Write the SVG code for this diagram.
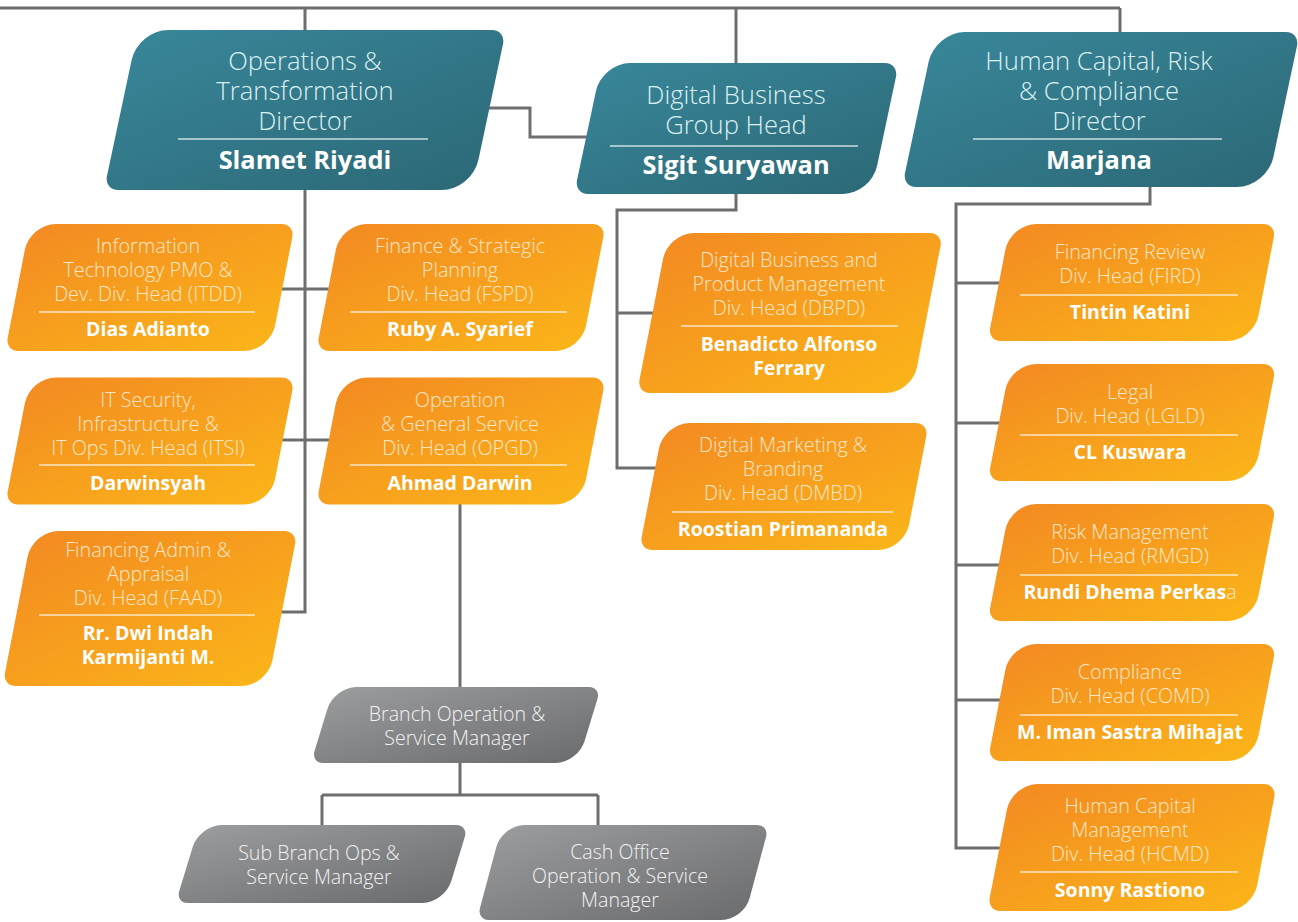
<svg xmlns="http://www.w3.org/2000/svg" xmlns:xlink="http://www.w3.org/1999/xlink" width="1298" height="922" viewBox="0 0 1298 922">
<defs>
<linearGradient id="gTeal" x1="0" y1="0" x2="1" y2="1"><stop offset="0" stop-color="#388699"/><stop offset="1" stop-color="#2c6977"/></linearGradient>
<linearGradient id="gOr" x1="0" y1="0" x2="1" y2="1"><stop offset="0" stop-color="#f38a22"/><stop offset="1" stop-color="#fbb519"/></linearGradient>
<linearGradient id="gGr" x1="0" y1="0" x2="1" y2="1"><stop offset="0" stop-color="#9b9c9e"/><stop offset="1" stop-color="#6b6c6e"/></linearGradient>
<path id="o127" d="M-106.5,-63.5 H119.5 A13,13 0 0 1 132.5,-50.5 V37.5 A26,26 0 0 1 106.5,63.5 H-119.5 A13,13 0 0 1 -132.5,50.5 V-37.5 A26,26 0 0 1 -106.5,-63.5 Z"/>
<path id="o117" d="M-107,-58.5 H120 A13,13 0 0 1 133,-45.5 V32.5 A26,26 0 0 1 107,58.5 H-120 A13,13 0 0 1 -133,45.5 V-32.5 A26,26 0 0 1 -107,-58.5 Z"/>
<path id="o155" d="M-106.5,-77.5 H119.5 A13,13 0 0 1 132.5,-64.5 V51.5 A26,26 0 0 1 106.5,77.5 H-119.5 A13,13 0 0 1 -132.5,64.5 V-51.5 A26,26 0 0 1 -106.5,-77.5 Z"/>
<path id="o160" d="M-111.5,-80 H124.5 A13,13 0 0 1 137.5,-67 V54 A26,26 0 0 1 111.5,80 H-124.5 A13,13 0 0 1 -137.5,67 V-54 A26,26 0 0 1 -111.5,-80 Z"/>
<path id="g76" d="M-111.5,-38 H121.5 A12,12 0 0 1 133.5,-26 V16 A22,22 0 0 1 111.5,38 H-121.5 A12,12 0 0 1 -133.5,26 V-16 A22,22 0 0 1 -111.5,-38 Z"/>
<path id="g78" d="M-112.5,-39 H122.5 A12,12 0 0 1 134.5,-27 V17 A22,22 0 0 1 112.5,39 H-122.5 A12,12 0 0 1 -134.5,27 V-17 A22,22 0 0 1 -112.5,-39 Z"/>
<path id="g95" d="M-111.5,-47.5 H121.5 A12,12 0 0 1 133.5,-35.5 V25.5 A22,22 0 0 1 111.5,47.5 H-121.5 A12,12 0 0 1 -133.5,35.5 V-25.5 A22,22 0 0 1 -111.5,-47.5 Z"/>
</defs>
<style>
.con{fill:none;stroke:#6d6e70;stroke-width:3}
.teal{fill:url(#gTeal)}
.or{fill:url(#gOr)}
.gr{fill:url(#gGr)}
text{font-family:"Open Sans","Noto Sans","Liberation Sans",sans-serif;text-anchor:middle}
.tt{font-size:25.6px;font-weight:300;fill:#dcf0f2}
.tn{font-size:25.4px;font-weight:700;fill:#ffffff}
.ot{font-size:19.8px;font-weight:300;fill:#fde7c9}
.on{font-size:19.5px;font-weight:700;fill:#ffffff}
.gt{font-size:19.6px;font-weight:300;fill:#f2f2f2}
.sep{stroke:#ffffff;stroke-opacity:0.75;stroke-width:1.5}
</style>
<rect width="1298" height="922" fill="#ffffff"/>
<g id="connectors">
<path class="con" d="M0,8 H1120 M305,8 V40 M736,8 V70 M1120,8 V40"/>
<path class="con" d="M480,108 H530 V137 H595"/>
<path class="con" d="M305,180 V612 H275 M275,289 H335 M275,440 H335"/>
<path class="con" d="M460,500 V695"/>
<path class="con" d="M460,760 V795 M322,795 H598 M322,795 V832 M598,795 V832"/>
<path class="con" d="M736,190 V210 H617 V468 H665 M617,313 H665"/>
<path class="con" d="M1150,180 V204 H956 V848 H1000 M956,283 H1005 M956,423 H1005 M956,565 H1005 M956,700 H1005"/>
</g>
<g id="n-slamet">
<path class="teal" transform="translate(305,110) skewX(-12)" d="M-154,-80 H170 A14,14 0 0 1 184,-66 V50 A30,30 0 0 1 154,80 H-170 A14,14 0 0 1 -184,66 V-50 A30,30 0 0 1 -154,-80 Z"/>
<text class="tt" x="305" y="70">Operations &amp;</text>
<text class="tt" x="305" y="100">Transformation</text>
<text class="tt" x="305" y="130">Director</text>
<line class="sep" x1="178" y1="139" x2="428" y2="139"/>
<text class="tn" x="305" y="169">Slamet Riyadi</text>
</g>
<g id="n-sigit">
<path class="teal" transform="translate(736.5,128.5) skewX(-12)" d="M-120.5,-65.5 H134.5 A14,14 0 0 1 148.5,-51.5 V37.5 A28,28 0 0 1 120.5,65.5 H-134.5 A14,14 0 0 1 -148.5,51.5 V-37.5 A28,28 0 0 1 -120.5,-65.5 Z"/>
<text class="tt" x="736" y="104">Digital Business</text>
<text class="tt" x="736" y="134">Group Head</text>
<line class="sep" x1="610" y1="146" x2="858" y2="146"/>
<text class="tn" x="736" y="174">Sigit Suryawan</text>
</g>
<g id="n-marjana">
<path class="teal" transform="translate(1101,109.5) skewX(-12)" d="M-152.5,-77.5 H168.5 A14,14 0 0 1 182.5,-63.5 V47.5 A30,30 0 0 1 152.5,77.5 H-168.5 A14,14 0 0 1 -182.5,63.5 V-47.5 A30,30 0 0 1 -152.5,-77.5 Z"/>
<text class="tt" x="1099" y="70">Human Capital, Risk</text>
<text class="tt" x="1099" y="100">&amp; Compliance</text>
<text class="tt" x="1099" y="130">Director</text>
<line class="sep" x1="973" y1="139" x2="1222" y2="139"/>
<text class="tn" x="1099" y="169">Marjana</text>
</g>
<g id="n-itdd">
<use href="#o127" class="or" transform="translate(150,287.5) skewX(-11)"/>
<text class="ot" x="148" y="253">Information</text>
<text class="ot" x="148" y="277">Technology PMO &amp;</text>
<text class="ot" x="148" y="301">Dev. Div. Head (ITDD)</text>
<line class="sep" x1="39" y1="312" x2="255" y2="312"/>
<text class="on" x="148" y="336">Dias Adianto</text>
</g>
<g id="n-itsi">
<use href="#o127" class="or" transform="translate(150,441) skewX(-11)"/>
<text class="ot" x="148" y="407">IT Security,</text>
<text class="ot" x="148" y="431">Infrastructure &amp;</text>
<text class="ot" x="148" y="455">IT Ops Div. Head (ITSI)</text>
<line class="sep" x1="39" y1="465" x2="255" y2="465"/>
<text class="on" x="148" y="490">Darwinsyah</text>
</g>
<g id="n-faad">
<use href="#o155" class="or" transform="translate(150,608.5) skewX(-11)"/>
<text class="ot" x="148" y="557">Financing Admin &amp;</text>
<text class="ot" x="148" y="581">Appraisal</text>
<text class="ot" x="148" y="605">Div. Head (FAAD)</text>
<line class="sep" x1="39" y1="615" x2="255" y2="615"/>
<text class="on" x="148" y="640">Rr. Dwi Indah</text>
<text class="on" x="148" y="664">Karmijanti M.</text>
</g>
<g id="n-fspd">
<use href="#o127" class="or" transform="translate(461,287.5) skewX(-11)"/>
<text class="ot" x="460" y="253">Finance &amp; Strategic</text>
<text class="ot" x="460" y="277">Planning</text>
<text class="ot" x="460" y="301">Div. Head (FSPD)</text>
<line class="sep" x1="350" y1="312" x2="567" y2="312"/>
<text class="on" x="460" y="336">Ruby A. Syarief</text>
</g>
<g id="n-opgd">
<use href="#o127" class="or" transform="translate(461,441) skewX(-11)"/>
<text class="ot" x="460" y="407">Operation</text>
<text class="ot" x="460" y="431">&amp; General Service</text>
<text class="ot" x="460" y="455">Div. Head (OPGD)</text>
<line class="sep" x1="350" y1="465" x2="567" y2="465"/>
<text class="on" x="460" y="490">Ahmad Darwin</text>
</g>
<g id="n-dbpd">
<use href="#o160" class="or" transform="translate(790,313) skewX(-11)"/>
<text class="ot" x="789" y="267">Digital Business and</text>
<text class="ot" x="789" y="291">Product Management</text>
<text class="ot" x="789" y="315">Div. Head (DBPD)</text>
<line class="sep" x1="681" y1="326" x2="898" y2="326"/>
<text class="on" x="789" y="351">Benadicto Alfonso</text>
<text class="on" x="789" y="375">Ferrary</text>
</g>
<g id="n-dmbd">
<use href="#o127" class="or" transform="translate(784,486.5) skewX(-11)"/>
<text class="ot" x="783" y="452">Digital Marketing &amp;</text>
<text class="ot" x="783" y="476">Branding</text>
<text class="ot" x="783" y="500">Div. Head (DMBD)</text>
<line class="sep" x1="672" y1="512" x2="893" y2="512"/>
<text class="on" x="783" y="536">Roostian Primananda</text>
</g>
<g id="n-fird">
<use href="#o117" class="or" transform="translate(1132,282.5) skewX(-11)"/>
<text class="ot" x="1130" y="259">Financing Review</text>
<text class="ot" x="1130" y="283">Div. Head (FIRD)</text>
<line class="sep" x1="1020" y1="295" x2="1238" y2="295"/>
<text class="on" x="1130" y="319">Tintin Katini</text>
</g>
<g id="n-lgld">
<use href="#o117" class="or" transform="translate(1132,422.5) skewX(-11)"/>
<text class="ot" x="1130" y="399">Legal</text>
<text class="ot" x="1130" y="423">Div. Head (LGLD)</text>
<line class="sep" x1="1020" y1="435" x2="1238" y2="435"/>
<text class="on" x="1130" y="459">CL Kuswara</text>
</g>
<g id="n-rmgd">
<use href="#o117" class="or" transform="translate(1132,562.5) skewX(-11)"/>
<text class="ot" x="1130" y="539">Risk Management</text>
<text class="ot" x="1130" y="563">Div. Head (RMGD)</text>
<line class="sep" x1="1020" y1="575" x2="1238" y2="575"/>
<text class="on" x="1130" y="599">Rundi Dhema Perkas<tspan font-weight="300" fill="#fde7c9">a</tspan></text>
</g>
<g id="n-comd">
<use href="#o117" class="or" transform="translate(1132,702.5) skewX(-11)"/>
<text class="ot" x="1130" y="679">Compliance</text>
<text class="ot" x="1130" y="703">Div. Head (COMD)</text>
<line class="sep" x1="1020" y1="715" x2="1238" y2="715"/>
<text class="on" x="1130" y="739">M. Iman Sastra Mihajat</text>
</g>
<g id="n-hcmd">
<use href="#o127" class="or" transform="translate(1132,847.5) skewX(-11)"/>
<text class="ot" x="1130" y="813">Human Capital</text>
<text class="ot" x="1130" y="837">Management</text>
<text class="ot" x="1130" y="861">Div. Head (HCMD)</text>
<line class="sep" x1="1020" y1="872" x2="1238" y2="872"/>
<text class="on" x="1130" y="897">Sonny Rastiono</text>
</g>
<g id="n-branch">
<use href="#g76" class="gr" transform="translate(456,725) skewX(-17)"/>
<text class="gt" x="457" y="721">Branch Operation &amp;</text>
<text class="gt" x="457" y="745">Service Manager</text>
</g>
<g id="n-subbranch">
<use href="#g78" class="gr" transform="translate(322,864) skewX(-17)"/>
<text class="gt" x="319" y="860">Sub Branch Ops &amp;</text>
<text class="gt" x="319" y="884">Service Manager</text>
</g>
<g id="n-cash">
<use href="#g95" class="gr" transform="translate(623,872.5) skewX(-15)"/>
<text class="gt" x="620" y="859">Cash Office</text>
<text class="gt" x="620" y="883">Operation &amp; Service</text>
<text class="gt" x="620" y="907">Manager</text>
</g>
</svg>
